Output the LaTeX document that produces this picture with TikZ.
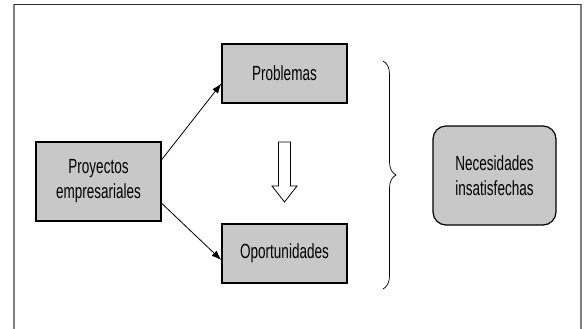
\documentclass[tikz,border=0pt]{standalone}
\usepackage{fontspec}
\setmainfont[FakeStretch=0.66]{Liberation Sans}
\usetikzlibrary{positioning,arrows.meta,decorations.pathreplacing}
\definecolor{boxgray}{HTML}{C8C8C8}
\definecolor{framegray}{HTML}{7F7F7F}

\begin{document}
\begin{tikzpicture}[x=1pt,y=-1pt,
	caja/.style={draw,line width=1.2pt,fill=boxgray,minimum width=125pt,align=center,inner sep=0pt,font=\fontsize{20.5}{25}\selectfont},
	flecha/.style={-{Latex[length=10pt,width=7pt]},line width=0.8pt}]
		\useasboundingbox (0,0) rectangle (586,329);
		% marco
		\draw[framegray,line width=2pt] (13.5,335) -- (13.5,4.5);
		\draw[framegray,line width=1.5pt] (581,4.5) -- (581,335);
		\draw[black!80,line width=1.5pt] (13.5,4.5) -- (581,4.5);
		\node[caja,minimum height=79pt] (proy) at (98.5,181.5) {Proyectos\\empresariales};
		\node[caja,minimum height=59pt] (prob) at (284.5,73.5) {Problemas};
		\node[caja,minimum height=59pt] (opor) at (284.5,253.5) {Oportunidades};
		\node[caja,minimum width=123pt,minimum height=99pt,rounded corners=13pt] (nec) at (494.5,175.5) {Necesidades\\insatisfechas};
		\draw[flecha] (proy.19) -- (prob.189);
		\draw[flecha] (proy.-19) -- (opor.186);
		% flecha hueca
		\draw[line width=0.8pt,fill=white] (278.5,142) -- (290.5,142) -- (290.5,186) -- (297,186) -- (284.5,202) -- (272,186) -- (278.5,186) -- cycle;
		\draw[decorate,decoration={brace,amplitude=13pt},line width=0.7pt] (383,61) -- (383,289);
		\end{tikzpicture}
\end{document}
